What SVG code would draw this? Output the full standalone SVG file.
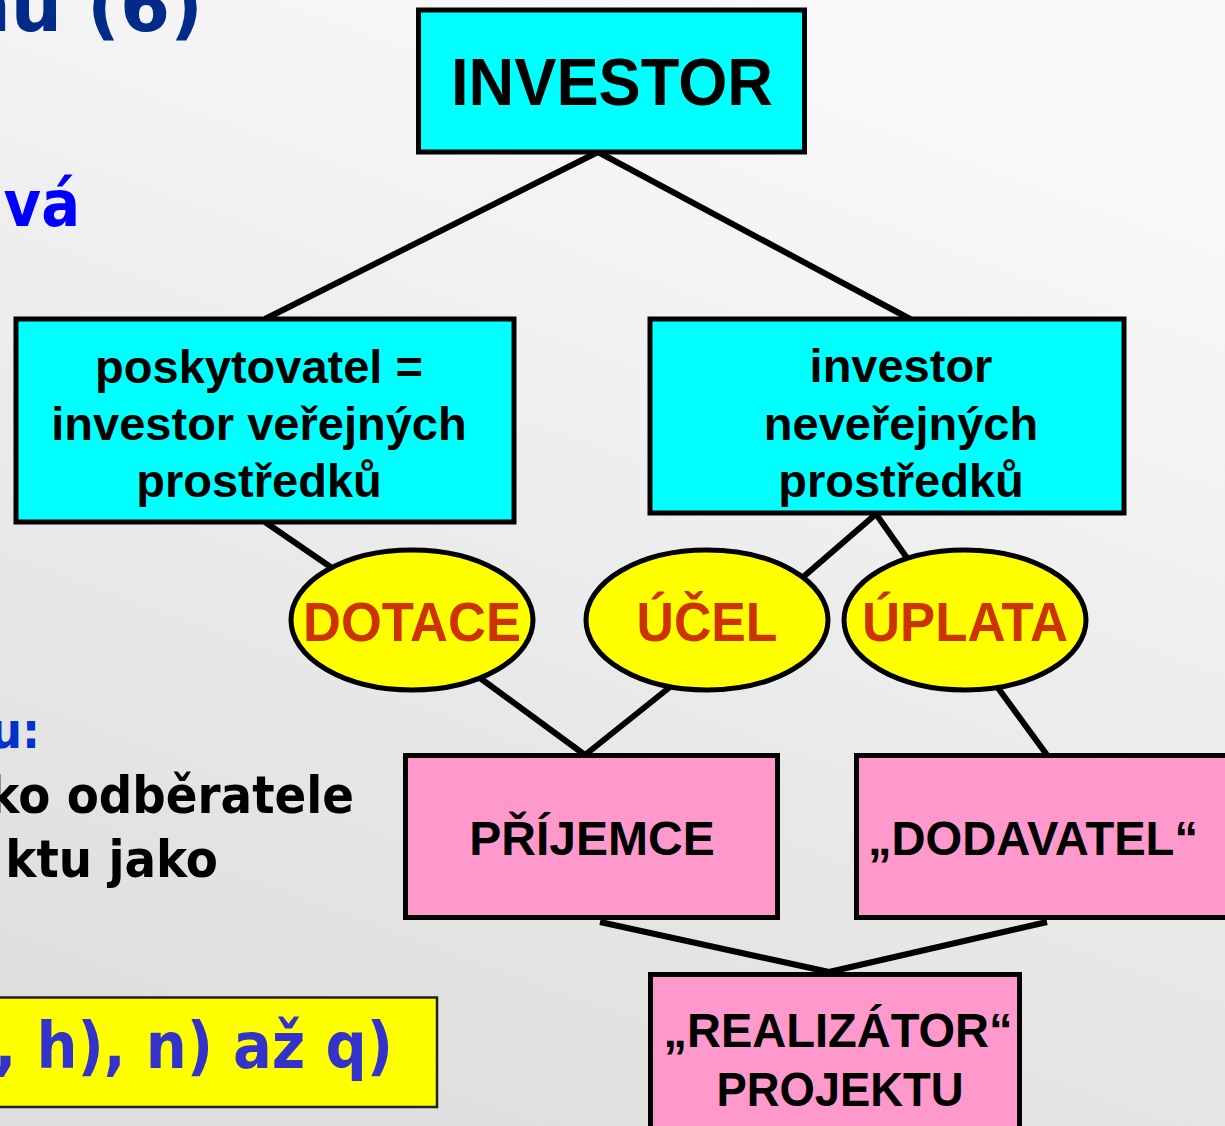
<svg xmlns="http://www.w3.org/2000/svg" width="1225" height="1126" viewBox="0 0 1225 1126">
  <defs>
    <linearGradient id="bg" x1="0.7" y1="0" x2="0.3" y2="1">
      <stop offset="0" stop-color="#FAFAFA"/>
      <stop offset="1" stop-color="#DEDEDE"/>
    </linearGradient>
    <style>
      .box { stroke: #000; stroke-width: 5; }
      .cyan { fill: #00FFFF; }
      .pink { fill: #FF99CC; }
      .oval { fill: #FFFF00; stroke: #000; stroke-width: 5; }
      .lbl { font-family: "Liberation Sans", Arial, sans-serif; font-weight: bold; fill: #000; text-anchor: middle; }
      .olbl { font-family: "Liberation Sans", Arial, sans-serif; font-weight: bold; fill: #CC3300; text-anchor: middle; font-size: 55px; }
      .side { font-family: "DejaVu Sans", Verdana, sans-serif; font-weight: bold; text-anchor: end; }
      .conn line { stroke: #000; stroke-width: 6; }
    </style>
  </defs>

  <rect width="1225" height="1126" fill="url(#bg)"/>

  <!-- slide text running in from the left edge -->
  <g id="slide-text">
    <text class="side" transform="translate(203,31)" font-size="72" fill="#002B88">nu (6)</text>
    <text class="side" transform="translate(80,226) scale(0.9,1)" font-size="64" fill="#0000FF">nvá</text>
    <text class="side" transform="translate(40,748) scale(0.9,1)" font-size="50" fill="#0033CC">u:</text>
    <text class="side" transform="translate(354,813) scale(0.9,1)" font-size="52" fill="#000">ko odběratele</text>
    <text class="side" transform="translate(218,877) scale(0.9,1)" font-size="52" fill="#000">ktu jako</text>
    <rect x="-10" y="997.5" width="447" height="109.5" fill="#FFFF00" stroke="#222" stroke-width="2.5"/>
    <text class="side" transform="translate(393,1068) scale(0.9,1)" font-size="64" fill="#3333CC">, h), n) až q)</text>
  </g>

  <!-- connectors -->
  <g id="connectors" class="conn">
    <line x1="598" y1="152" x2="265" y2="319"/>
    <line x1="598" y1="152" x2="912" y2="320"/>
    <line x1="265" y1="522" x2="332" y2="568"/>
    <line x1="480" y1="678" x2="585" y2="755"/>
    <line x1="670" y1="687" x2="585" y2="755"/>
    <line x1="876" y1="514" x2="802" y2="578"/>
    <line x1="876" y1="514" x2="907" y2="558"/>
    <line x1="998" y1="688" x2="1047" y2="755"/>
    <line x1="600" y1="922" x2="829" y2="972"/>
    <line x1="1047" y1="922" x2="829" y2="972"/>
  </g>

  <g id="investor">
    <rect class="box cyan" x="418.5" y="10" width="386" height="142"/>
    <text class="lbl" x="612" y="105" font-size="66" textLength="322" lengthAdjust="spacingAndGlyphs">INVESTOR</text>
  </g>

  <g id="poskytovatel">
    <rect class="box cyan" x="16" y="319" width="498" height="203"/>
    <text class="lbl" font-size="47" x="259" y="383">poskytovatel =</text>
    <text class="lbl" font-size="47" x="259" y="440">investor veřejných</text>
    <text class="lbl" font-size="47" x="259" y="497">prostředků</text>
  </g>

  <g id="investor-neverejnych">
    <rect class="box cyan" x="650" y="319" width="474" height="194"/>
    <text class="lbl" font-size="47" x="901" y="382">investor</text>
    <text class="lbl" font-size="47" x="901" y="440">neveřejných</text>
    <text class="lbl" font-size="47" x="901" y="497">prostředků</text>
  </g>

  <g id="dotace">
    <ellipse class="oval" cx="412" cy="620" rx="121" ry="70"/>
    <text class="olbl" x="412" y="641" textLength="218" lengthAdjust="spacingAndGlyphs">DOTACE</text>
  </g>

  <g id="ucel">
    <ellipse class="oval" cx="707" cy="620" rx="121" ry="70"/>
    <text class="olbl" x="707" y="641" textLength="141" lengthAdjust="spacingAndGlyphs">ÚČEL</text>
  </g>

  <g id="uplata">
    <ellipse class="oval" cx="965" cy="620" rx="121" ry="70"/>
    <text class="olbl" x="965" y="641" textLength="206" lengthAdjust="spacingAndGlyphs">ÚPLATA</text>
  </g>

  <g id="prijemce">
    <rect class="box pink" x="405.5" y="755.5" width="372" height="162"/>
    <text class="lbl" x="592" y="855" font-size="48">PŘÍJEMCE</text>
  </g>

  <g id="dodavatel">
    <rect class="box pink" x="856.5" y="755.5" width="380" height="162"/>
    <text class="lbl" x="1033" y="855" font-size="48" textLength="330" lengthAdjust="spacingAndGlyphs">„DODAVATEL“</text>
  </g>

  <g id="realizator">
    <rect class="box pink" x="650.5" y="974.5" width="369" height="170"/>
    <text class="lbl" x="838" y="1047" font-size="48" textLength="349" lengthAdjust="spacingAndGlyphs">„REALIZÁTOR“</text>
    <text class="lbl" x="840" y="1106" font-size="48" textLength="247" lengthAdjust="spacingAndGlyphs">PROJEKTU</text>
  </g>
</svg>
